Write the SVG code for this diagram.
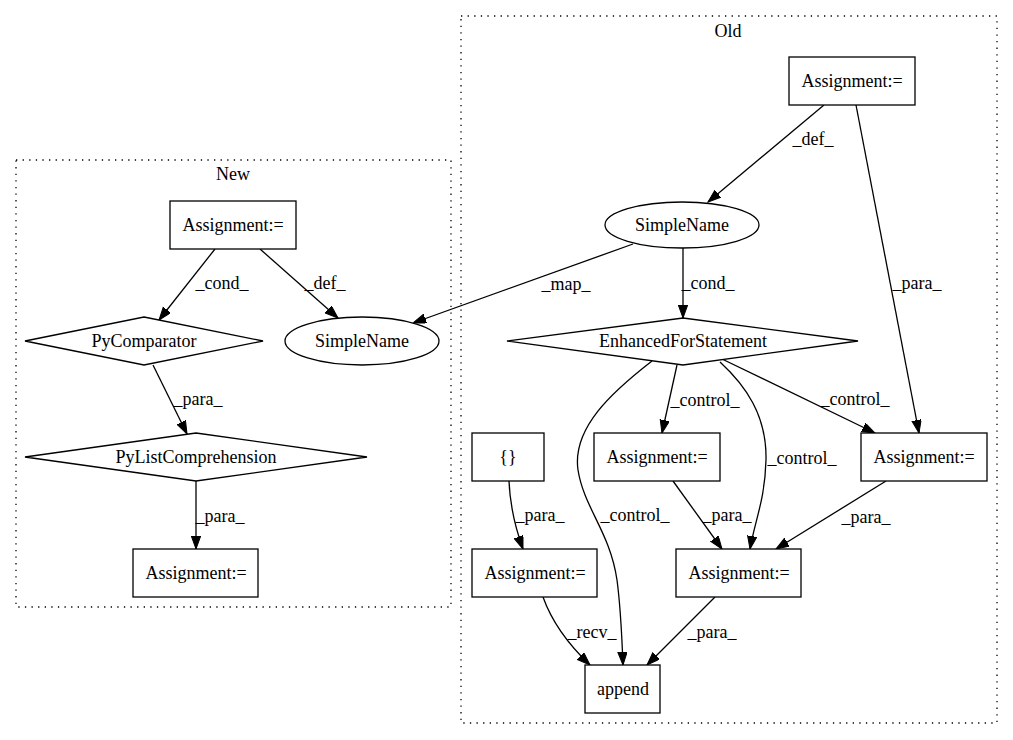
<svg xmlns="http://www.w3.org/2000/svg" width="1013" height="740" viewBox="0 0 1013 740">
<style>
text{font-family:"Liberation Serif","Times New Roman",serif;font-size:18px;fill:#000;text-anchor:middle}
.cl{fill:none;stroke:#000;stroke-width:1.3;stroke-dasharray:1.3,5.3}
.n{fill:#fff;stroke:#000;stroke-width:1.3}
.e{fill:none;stroke:#000;stroke-width:1.3;marker-end:url(#arr)}
</style>
<defs>
<marker id="arr" markerUnits="userSpaceOnUse" markerWidth="15" markerHeight="11" refX="13" refY="4.7" orient="auto">
<path d="M0,0 L13,4.7 L0,9.4 z" fill="#000" stroke="#000" stroke-width="1"/>
</marker>
</defs>
<rect width="1013" height="740" fill="#fff"/>
<g id="cluster_new">
<rect class="cl" x="16" y="160" width="435" height="447"/>
<text x="233" y="180">New</text>
</g>
<g id="cluster_old">
<rect class="cl" x="461" y="16" width="536" height="707"/>
<text x="728" y="37">Old</text>
</g>
<g id="edges">
<path class="e" d="M215,249 L159,320"/>
<text x="222" y="289">_cond_</text>
<path class="e" d="M260,249 L338,318"/>
<text x="325" y="289">_def_</text>
<path class="e" d="M153,365 L187,434"/>
<text x="198" y="405">_para_</text>
<path class="e" d="M196,481 L196,549"/>
<text x="220" y="522">_para_</text>
<path class="e" d="M824,105 L708,202"/>
<text x="813" y="145">_def_</text>
<path class="e" d="M856,105 L919,433"/>
<text x="917" y="289">_para_</text>
<path class="e" d="M683,248 L683,318"/>
<text x="708" y="289">_cond_</text>
<path class="e" d="M633,244 L413,323"/>
<text x="566" y="290">_map_</text>
<path class="e" d="M677,365 L662,433"/>
<text x="705" y="406">_control_</text>
<path class="e" d="M722,359 L875,433"/>
<text x="855" y="405">_control_</text>
<path class="e" d="M720,362 C745,385 767,415 766,460 C765,500 755,520 750,549"/>
<text x="802" y="464">_control_</text>
<path class="e" d="M652,361 C612,392 572,428 578,470 C584,508 610,532 617,580 C621,610 622,640 623,665"/>
<text x="635" y="521">_control_</text>
<path class="e" d="M509,481 C510,505 515,527 523,549"/>
<text x="540" y="521">_para_</text>
<path class="e" d="M673,481 L722,549"/>
<text x="727" y="521">_para_</text>
<path class="e" d="M886,481 L776,549"/>
<text x="866" y="523">_para_</text>
<path class="e" d="M543,597 C553,625 570,646 590,665"/>
<text x="592" y="638">_recv_</text>
<path class="e" d="M715,597 L647,665"/>
<text x="712" y="638">_para_</text>
</g>
<g id="new_assign_top">
<rect class="n" x="170" y="201" width="126" height="48"/>
<text x="233" y="231">Assignment:=</text>
</g>
<g id="new_pycomparator">
<polygon class="n" points="144,317 263,341 144,365 25,341"/>
<text x="144" y="347">PyComparator</text>
</g>
<g id="new_simplename">
<ellipse class="n" cx="362" cy="341" rx="77" ry="24"/>
<text x="362" y="347">SimpleName</text>
</g>
<g id="new_pylistcomp">
<polygon class="n" points="196,433 367,457 196,481 25,457"/>
<text x="196" y="463">PyListComprehension</text>
</g>
<g id="new_assign_bottom">
<rect class="n" x="133" y="549" width="125" height="48"/>
<text x="196" y="579">Assignment:=</text>
</g>
<g id="old_assign_top">
<rect class="n" x="789" y="57" width="126" height="48"/>
<text x="852" y="87">Assignment:=</text>
</g>
<g id="old_simplename">
<ellipse class="n" cx="682" cy="225" rx="77" ry="23"/>
<text x="682" y="231">SimpleName</text>
</g>
<g id="old_efs">
<polygon class="n" points="683,318 858,341 683,365 507,341"/>
<text x="683" y="347">EnhancedForStatement</text>
</g>
<g id="old_braces">
<rect class="n" x="472" y="433" width="72" height="48"/>
<text x="508" y="463">{}</text>
</g>
<g id="old_assign_mid">
<rect class="n" x="594" y="433" width="126" height="48"/>
<text x="657" y="463">Assignment:=</text>
</g>
<g id="old_assign_right">
<rect class="n" x="861" y="433" width="126" height="48"/>
<text x="924" y="463">Assignment:=</text>
</g>
<g id="old_assign_left">
<rect class="n" x="472" y="549" width="125" height="48"/>
<text x="535" y="579">Assignment:=</text>
</g>
<g id="old_assign_center">
<rect class="n" x="676" y="549" width="125" height="48"/>
<text x="739" y="579">Assignment:=</text>
</g>
<g id="old_append">
<rect class="n" x="585" y="665" width="75" height="48"/>
<text x="623" y="695">append</text>
</g>
</svg>
